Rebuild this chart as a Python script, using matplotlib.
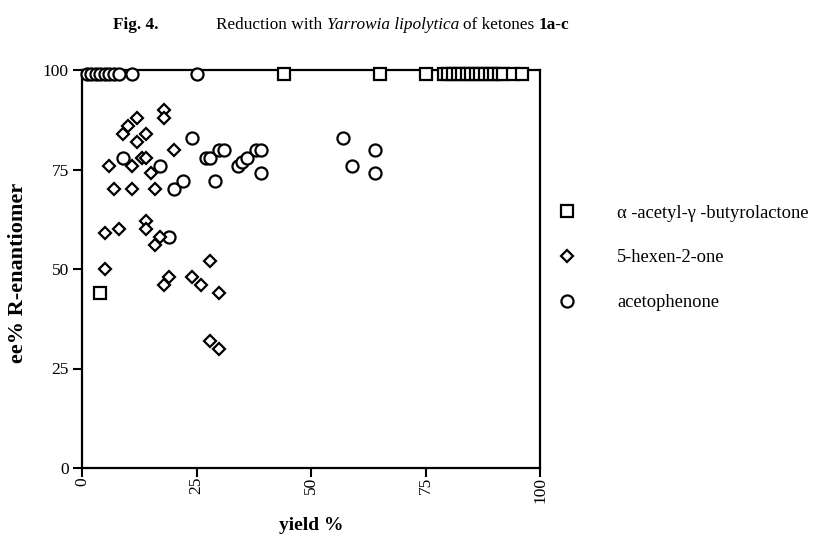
import matplotlib
matplotlib.use("Agg")
import matplotlib.pyplot as plt

# ---------------- data ----------------
sq_x = [4, 44, 65, 75, 79, 80, 81, 82, 83, 84, 85, 86, 87, 88, 89, 90, 91, 92, 94, 96]
sq_y = [44, 99, 99, 99, 99, 99, 99, 99, 99, 99, 99, 99, 99, 99, 99, 99, 99, 99, 99, 99]

dia_x = [18, 18, 12, 10, 9, 14, 12, 20, 13, 14, 6, 11, 15, 7, 11, 16,
         5, 8, 14, 14, 17, 16, 5, 19, 18, 24, 26, 28, 30, 28, 30]
dia_y = [90, 88, 88, 86, 84, 84, 82, 80, 78, 78, 76, 76, 74, 70, 70, 70,
         59, 60, 62, 60, 58, 56, 50, 48, 46, 48, 46, 52, 44, 32, 30]

cir_x = [1, 2, 3, 4, 5, 6, 7, 8, 11, 25,
         9, 24, 27, 28, 30, 31, 17, 22, 20, 29, 34, 35, 36, 38, 39, 39,
         57, 59, 64, 64, 19]
cir_y = [99, 99, 99, 99, 99, 99, 99, 99, 99, 99,
         78, 83, 78, 78, 80, 80, 76, 72, 70, 72, 76, 77, 78, 80, 80, 74,
         83, 76, 80, 74, 58]

series_names = ["\u03b1 -acetyl-\u03b3 -butyrolactone", "5-hexen-2-one", "acetophenone"]
ticks = [0, 25, 50, 75, 100]
tick_labels = ["0", "25", "50", "75", "100"]

# ---------------- figure ----------------
W, H = 833, 546
fig = plt.figure(figsize=(W / 100, H / 100), dpi=100)
plt.rcParams["font.family"] = ["Liberation Serif", "DejaVu Serif"]

ax = fig.add_axes([82 / W, 1 - 468 / H, (540 - 82) / W, (468 - 70) / H])
ax.set_xlim(0, 100)
ax.set_ylim(0, 100)

def order(xs, ys):
    pairs = sorted(zip(xs, ys), key=lambda p: p[0])
    return [p[0] for p in pairs], [p[1] for p in pairs]

sx, sy = order(sq_x, sq_y)
dx, dy = order(dia_x, dia_y)
cx, cy = order(cir_x, cir_y)

common = dict(linestyle="none", mfc="white", mec="black", mew=1.6, clip_on=False)
h_sq, = ax.plot(sx, sy, marker="s", ms=8.5, zorder=5, label=series_names[0], **common)
h_di, = ax.plot(dx, dy, marker="D", ms=6.0, zorder=4, label=series_names[1], **common)
h_ci, = ax.plot(cx, cy, marker="o", ms=8.7, zorder=3, label=series_names[2], **common)

for s in ax.spines.values():
    s.set_linewidth(1.6)
    s.set_color("black")

ax.set_xticks(ticks)
ax.set_xticklabels(tick_labels, rotation=90, fontsize=12.5)
ax.set_yticks(ticks)
ax.set_yticklabels(tick_labels, fontsize=12.5)
ax.tick_params(direction="out", length=6.5, width=1.5, pad=3)
ax.tick_params(axis="x", pad=0)

ax.set_xlabel("yield %", fontsize=14, fontweight="bold", labelpad=10)
ax.set_ylabel("ee% R-enantiomer", fontsize=16, fontweight="bold", labelpad=6)
ax.yaxis.set_label_coords(-0.118, 0.49)

leg = ax.legend(handles=[h_sq, h_di, h_ci], loc="center left",
                bbox_to_anchor=(558 / W, 1 - 258 / H), bbox_transform=fig.transFigure,
                frameon=False, fontsize=13.3, handlelength=1.0, handletextpad=2.2,
                labelspacing=1.5, borderaxespad=0, borderpad=0)

# ---------------- title (mixed styles) ----------------
renderer = fig.canvas.get_renderer()
pieces = [("Fig. 4.", "bold", "normal", 58),
          ("Reduction with ", "normal", "normal", 0),
          ("Yarrowia lipolytica", "normal", "italic", 4),
          ("of ketones ", "normal", "normal", 0),
          ("1a-c", "bold", "normal", 0)]
xpos = 113
for txt, wt, st, gap in pieces:
    t = fig.text(xpos / W, 1 - 29 / H, txt, fontsize=12.4, fontweight=wt, fontstyle=st,
                 va="baseline", ha="left")
    bb = t.get_window_extent(renderer)
    xpos = bb.x1 + gap

fig.savefig("out.png", dpi=100)
